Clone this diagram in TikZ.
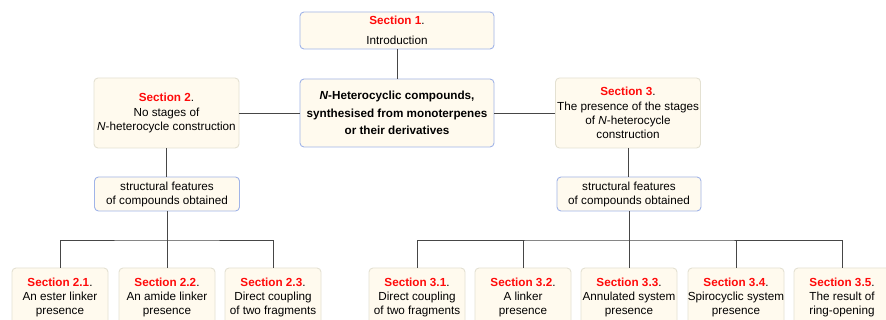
\documentclass[tikz,border=0pt]{standalone}
\usepackage{fontspec}
\setmainfont{Liberation Sans}
\definecolor{secred}{RGB}{255,10,10}
\definecolor{boxfill}{RGB}{255,250,238}
\definecolor{blueedge}{RGB}{160,180,232}
\definecolor{grayedge}{RGB}{228,225,210}
\definecolor{linec}{RGB}{70,70,70}
\newcommand{\sect}[1]{\textcolor{secred}{\bfseries #1}.}
\begin{document}
\begin{tikzpicture}[x=1pt,y=-1pt,
  box/.style={draw, rounded corners=4pt, fill=boxfill, line width=0.9pt, inner sep=0pt, align=center,
    font=\fontsize{11.7}{14}\selectfont},
  bluebox/.style={box, draw=blueedge},
  graybox/.style={box, draw=grayedge},
  txt/.style={inner sep=0pt, align=center, font=\fontsize{11.7}{14}\selectfont},
  conn/.style={draw=linec, line width=0.9pt}]
\useasboundingbox (0,0) rectangle (886,320);
\fill[white] (0,0) rectangle (886,320);
\clip (0,0) rectangle (886,320);

% top level
\node[bluebox, minimum width=194pt, minimum height=37pt] (s1) at (397,30.5)
  {\sect{Section 1}\\[6pt]Introduction};
\node[bluebox, minimum width=194pt, minimum height=68pt,
  font=\bfseries\fontsize{11.7}{17.5}\selectfont] (c) at (397,113)
  {\textit{N}-Heterocyclic compounds,\\synthesised from monoterpenes\\or their derivatives};
\node[graybox, minimum width=145pt, minimum height=70pt,
  font=\fontsize{11.7}{14.5}\selectfont] (s2) at (166.5,113)
  {\sect{Section 2}\\No stages of\\\textit{N}-heterocycle construction};
\node[graybox, minimum width=145pt, minimum height=70pt,
  font=\fontsize{11.7}{14.2}\selectfont] (s3) at (628,113)
  {\sect{Section 3}\\The presence of the stages\\of \textit{N}-heterocycle\\construction};
\node[bluebox, minimum width=145pt, minimum height=34pt] (fl) at (167,194)
  {structural features\\of compounds obtained};
\node[bluebox, minimum width=144pt, minimum height=34pt] (fr) at (629,194)
  {structural features\\of compounds obtained};

% bottom boxes
\foreach \nm/\xx in {b21/60,b22/167,b23/273,b31/417,b32/523,b33/629,b34/736,b35/842}{
  \node[graybox, minimum width=96pt, minimum height=58pt] (\nm) at (\xx,297) {};
}
\node[txt, anchor=north] (t21) at (b21.north |- 0,278) {\sect{Section 2.1}\\An ester linker\\presence};
\node[txt, anchor=north] (t22) at (b22.north |- 0,278) {\sect{Section 2.2}\\An amide linker\\presence};
\node[txt, anchor=north] (t23) at (b23.north |- 0,278) {\sect{Section 2.3}\\Direct coupling\\of two fragments};
\node[txt, anchor=north] (t31) at (b31.north |- 0,278) {\sect{Section 3.1}\\Direct coupling\\of two fragments};
\node[txt, anchor=north] (t32) at (b32.north |- 0,278) {\sect{Section 3.2}\\A linker\\presence};
\node[txt, anchor=north] (t33) at (b33.north |- 0,278) {\sect{Section 3.3}\\Annulated system\\presence};
\node[txt, anchor=north] (t34) at (b34.north |- 0,278) {\sect{Section 3.4}\\Spirocyclic system\\presence};
\node[txt, anchor=north] (t35) at (b35.north |- 0,278) {\sect{Section 3.5}\\The result of\\ring-opening};

% connectors
\draw[conn] (s1.south) -- (c.north);
\draw[conn] (c.west) -- (s2.east);
\draw[conn] (c.east) -- (s3.west);
\draw[conn] (s2.south) -- (s2.south |- fl.north);
\draw[conn] (s3.south) -- (s3.south |- fr.north);

\coordinate (busL) at (167,240);
\coordinate (busR) at (629,240);
\draw[conn] (fl.south) -- (busL);
\draw[conn] (b21.north) |- (busL) -| (b23.north);
\draw[conn] (busL) -- (b22.north);
\draw[conn] (fr.south) -- (busR);
\draw[conn] (b31.north) |- (busR) -| (b35.north);
\draw[conn] (busR) -- (b33.north);
\draw[conn] (b32.north) -- (b32.north |- busR);
\draw[conn] (b34.north) -- (b34.north |- busR);
\end{tikzpicture}
\end{document}
